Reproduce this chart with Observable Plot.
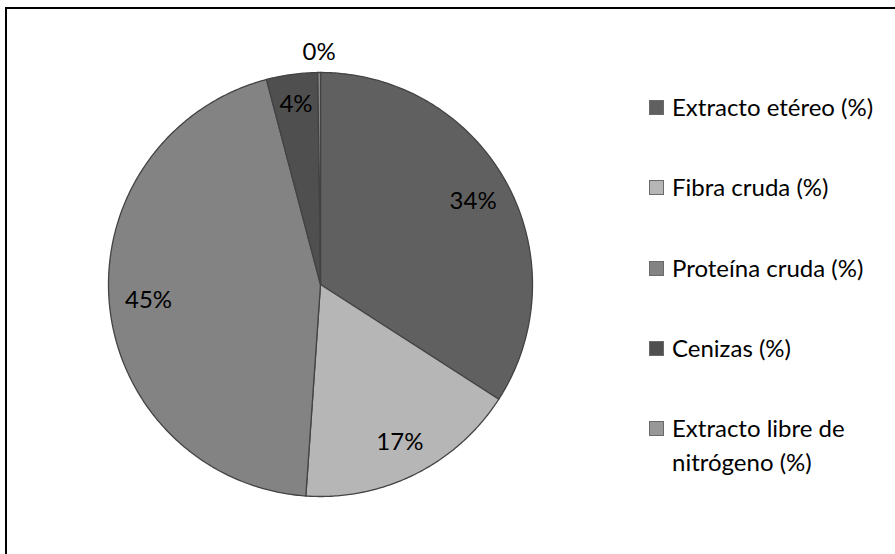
<!DOCTYPE html>
<html>
<head>
<meta charset="utf-8">
<script src="https://cdn.jsdelivr.net/npm/d3@7"></script>
<script src="https://cdn.jsdelivr.net/npm/@observablehq/plot@0.6"></script>
<style>
  html, body { margin: 0; padding: 0; background: #fff; }
  #frame {
    position: relative; width: 895px; height: 554px; overflow: hidden;
    font-family: Lato, "Liberation Sans", sans-serif; color: #000;
  }
  /* chart-area outline: only its top and left edges fall inside the page */
  #border {
    position: absolute; left: 5px; top: 7px; right: -10px; bottom: -10px;
    border-top: 2px solid #000; border-left: 2px solid #000;
  }
  #chart { position: absolute; left: 0; top: 0; }
  #legend { position: absolute; left: 649px; top: 90px; font-size: 24px; }
  .item { position: relative; height: 80.3px; padding-left: 23px; line-height: 34px; }
  .sw {
    position: absolute; left: 0; top: 10px; width: 15px; height: 15px;
    border: 1px solid #6a6a6a; box-sizing: border-box;
  }
</style>
</head>
<body>
<div id="frame">
  <div id="border"></div>
  <div id="chart"></div>
  <div id="legend"></div>
</div>
<script>
// Composition of the sample (percent of dry matter)
const components = [
  "Extracto etéreo (%)",
  "Fibra cruda (%)",
  "Proteína cruda (%)",
  "Cenizas (%)",
  "Extracto libre de nitrógeno (%)"
];
const shares = [34.1, 17.0, 44.8, 3.9, 0.2];
const fills = ["#606060", "#b6b6b6", "#838383", "#4f4f4f", "#989898"];
// distance of each percent label from the centre, as a fraction of the radius
const labelRadius = [0.82, 0.835, 0.815, 0.857, 1.094];

const total = d3.sum(shares);
const table = components.map((name, i) => ({name, value: shares[i]}));

// Angles: 0 at twelve o'clock, running clockwise, in the given order
const arcs = d3.pie().value(d => d.value).sort(null)(table);

// Each slice as a closed polygon in unit-circle coordinates
const slicePoints = arcs.flatMap(a => {
  const n = Math.max(2, Math.ceil((a.endAngle - a.startAngle) / 0.01));
  const pts = [{name: a.data.name, x: 0, y: 0}];
  for (let k = 0; k <= n; k++) {
    const t = a.startAngle + (a.endAngle - a.startAngle) * k / n;
    pts.push({name: a.data.name, x: Math.sin(t), y: Math.cos(t)});
  }
  pts.push({name: a.data.name, x: 0, y: 0});
  return pts;
});

// Percent labels placed along each slice's middle angle
const labels = arcs.map((a, i) => {
  const pct = Math.round(a.data.value / total * 100);
  const mid = (a.startAngle + a.endAngle) / 2;
  const r = labelRadius[i];
  return {text: pct + "%", x: r * Math.sin(mid), y: r * Math.cos(mid)};
});

const R = 212, CX = 320, CY = 284;

const chart = Plot.plot({
  width: 895,
  height: 554,
  margin: 0,
  style: {background: "transparent", overflow: "visible"},
  x: {domain: [-1, 1], range: [CX - R, CX + R], axis: null},
  y: {domain: [-1, 1], range: [CY + R, CY - R], axis: null},
  color: {type: "ordinal", domain: components, range: fills},
  marks: [
    Plot.line(slicePoints, {
      x: "x", y: "y", z: "name",
      fill: "name", stroke: "#434343", strokeWidth: 1.3,
      curve: "linear-closed", strokeLinejoin: "round"
    }),
    Plot.text(labels, {
      x: "x", y: "y", text: "text",
      fontSize: 24, fill: "#000", fontFamily: "Lato, sans-serif"
    })
  ]
});
document.getElementById("chart").appendChild(chart);

// Legend
const legend = d3.select("#legend");
components.forEach((name, i) => {
  const item = legend.append("div").attr("class", "item");
  item.append("div").attr("class", "sw").style("background", fills[i]);
  const parts = name === "Extracto libre de nitrógeno (%)"
    ? ["Extracto libre de", "nitrógeno (%)"] : [name];
  parts.forEach(p => item.append("div").text(p));
});
</script>
</body>
</html>
